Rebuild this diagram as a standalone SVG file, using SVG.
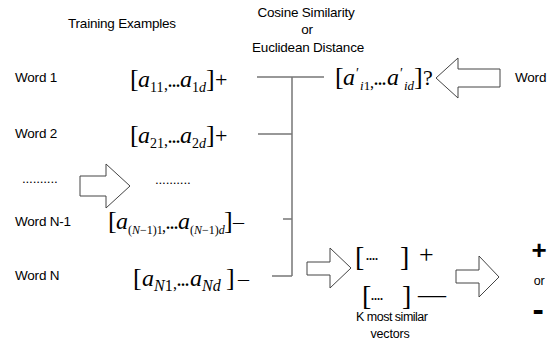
<svg xmlns="http://www.w3.org/2000/svg" width="552" height="349" viewBox="0 0 552 349">
<style>
.lbl{font-family:"Liberation Sans",Arial,sans-serif;font-size:13.5px;fill:#000;letter-spacing:-0.2px}
.m{font-family:"Liberation Serif","Times New Roman",serif;fill:#000}
.br{font-size:26px}
.a{font-size:24px;font-style:italic}
.sb{font-size:14px}
.i{font-style:italic}
.dots{font-size:16px;font-weight:bold}
.conn{stroke:#777;stroke-width:1.5;fill:none}
.arrow{fill:#fff;stroke:#444;stroke-width:1}
</style>
<rect width="552" height="349" fill="#fff"/>
<g id="headers">
<text class="lbl" x="68" y="28">Training Examples</text>
<text class="lbl" x="306" y="17" text-anchor="middle">Cosine Similarity</text>
<text class="lbl" x="307" y="34" text-anchor="middle">or</text>
<text class="lbl" x="308" y="52" text-anchor="middle">Euclidean Distance</text>
</g>
<g id="labels">
<text class="lbl" x="15" y="82">Word 1</text>
<text class="lbl" x="15" y="138">Word 2</text>
<text class="lbl" x="22" y="183">..........</text>
<text class="lbl" x="15" y="226">Word N-1</text>
<text class="lbl" x="15" y="280">Word N</text>
<text class="lbl" x="515" y="82">Word</text>
</g>
<g id="row1">
<text class="m">
<tspan class="br" x="130" y="87">[</tspan><tspan class="a" x="138" y="87">a</tspan><tspan class="sb" x="150" y="92">11</tspan><tspan font-size="16" x="164" y="90">,</tspan><tspan class="dots" x="168" y="87">...</tspan><tspan class="a" x="180" y="87">a</tspan><tspan class="sb" x="192" y="92">1<tspan class="i">d</tspan></tspan><tspan class="br" x="206" y="87">]</tspan><tspan font-size="22" x="215" y="87">+</tspan>
</text>
</g>
<g id="row2">
<text class="m">
<tspan class="br" x="130" y="143">[</tspan><tspan class="a" x="138" y="143">a</tspan><tspan class="sb" x="150" y="148">21</tspan><tspan font-size="16" x="164" y="146">,</tspan><tspan class="dots" x="168" y="143">...</tspan><tspan class="a" x="180" y="143">a</tspan><tspan class="sb" x="192" y="148">2<tspan class="i">d</tspan></tspan><tspan class="br" x="206" y="143">]</tspan><tspan font-size="22" x="215" y="143">+</tspan>
</text>
</g>
<g id="ellipsis">
<text class="lbl" x="155" y="184">..........</text>
</g>
<g id="rowN1">
<text class="m">
<tspan class="br" x="108" y="229">[</tspan><tspan class="a" x="116" y="229">a</tspan><tspan font-size="12" x="128" y="234">(<tspan class="i">N</tspan>−1)1</tspan><tspan font-size="16" x="162" y="232">,</tspan><tspan class="dots" x="166" y="229">...</tspan><tspan class="a" x="178" y="229">a</tspan><tspan font-size="12" x="190" y="234">(<tspan class="i">N</tspan>−1)<tspan class="i">d</tspan></tspan><tspan class="br" x="224" y="229">]</tspan><tspan font-size="22" x="233" y="229">–</tspan>
</text>
</g>
<g id="rowN">
<text class="m">
<tspan class="br" x="133" y="286">[</tspan><tspan class="a" x="142" y="286">a</tspan><tspan font-size="16" x="154" y="291"><tspan class="i">N</tspan>1</tspan><tspan font-size="16" x="173" y="289">,</tspan><tspan class="dots" x="177" y="286">...</tspan><tspan class="a" x="190" y="286">a</tspan><tspan font-size="16" x="202" y="291" font-style="italic">Nd</tspan><tspan class="br" x="226" y="286">]</tspan><tspan font-size="22" x="238" y="286">–</tspan>
</text>
</g>
<g id="query">
<text class="m">
<tspan class="br" x="335" y="85">[</tspan><tspan class="a" x="343" y="85">a</tspan><tspan font-size="14" x="356" y="78">′</tspan><tspan font-size="13" x="360" y="90" font-style="italic">i<tspan font-style="normal">1</tspan></tspan><tspan font-size="16" x="370" y="88">,</tspan><tspan class="dots" x="374" y="85">...</tspan><tspan class="a" x="387" y="85">a</tspan><tspan font-size="14" x="400" y="78">′</tspan><tspan font-size="13" x="404" y="90" font-style="italic">id</tspan><tspan class="br" x="414" y="85">]</tspan><tspan font-size="22" x="423" y="85">?</tspan>
</text>
</g>
<g id="knn">
<text class="m" font-size="28" x="355" y="266">[</text>
<text class="m" font-size="12" font-weight="bold" x="366" y="260">....</text>
<text class="m" font-size="28" x="400" y="266">]</text>
<text class="m" font-size="26" x="419" y="263">+</text>
<text class="m" font-size="28" x="362" y="305">[</text>
<text class="m" font-size="12" font-weight="bold" x="371" y="300">....</text>
<text class="m" font-size="28" x="402" y="305">]</text>
<text class="m" font-size="28" x="418" y="303">—</text>
<text class="lbl" x="356" y="321" style="font-size:12.5px;letter-spacing:-0.5px">K most similar</text>
<text class="lbl" x="390" y="338" text-anchor="middle" style="font-size:12.5px">vectors</text>
</g>
<g id="result">
<text class="lbl" x="539" y="259" text-anchor="middle" style="font-size:26px;font-weight:bold">+</text>
<text class="lbl" x="539" y="285" text-anchor="middle" style="font-size:12.5px">or</text>
<text class="lbl" x="538" y="321" text-anchor="middle" style="font-size:34px;font-weight:bold">-</text>
</g>
<g id="arrows">
<polygon class="arrow" points="436,78 458,58 458,69 500,69 500,87 458,87 458,98"/>
<polygon class="arrow" points="80,176 106,176 106,164 130,186 106,208 106,196 80,196"/>
<polygon class="arrow" points="307,262 330,262 330,248 351,268 330,288 330,275 307,275"/>
<polygon class="arrow" points="456,270 479,270 479,256 499,277 479,297 479,283 456,283"/>
</g>
<g id="connectors">
<path class="conn" d="M257,77 H324 M292,77 V276 M258,134 H292 M283,219 H292 M272,276 H292"/>
</g>
</svg>
